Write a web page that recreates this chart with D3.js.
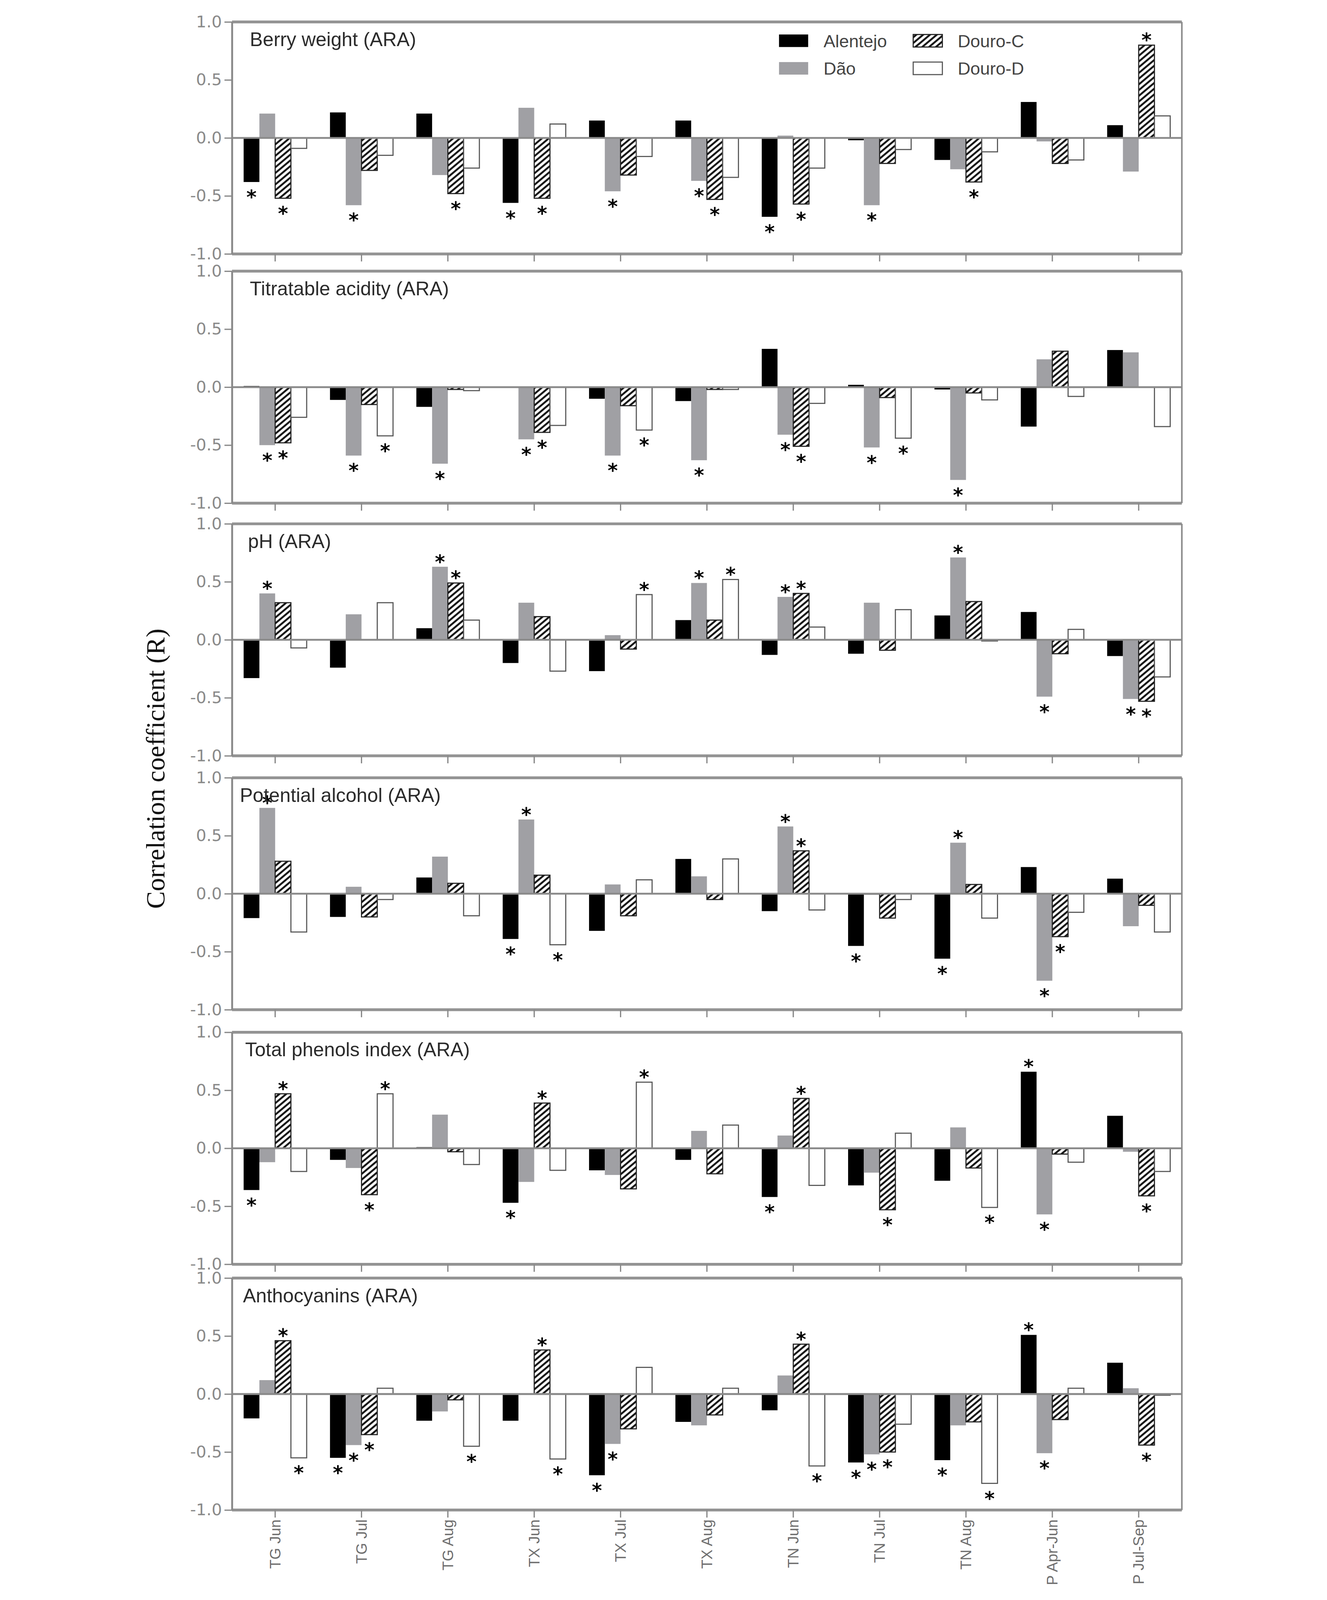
<!DOCTYPE html>
<html>
<head>
<meta charset="utf-8">
<script src="https://cdn.jsdelivr.net/npm/d3@7"></script>
<style>
  html, body { margin: 0; padding: 0; background: #fff; overflow: hidden; }
  svg { display: block; }
</style>
</head>
<body>
<div id="chart"></div>
<script>
// ---- data -------------------------------------------------------------
var months = ["TG Jun", "TG Jul", "TG Aug", "TX Jun", "TX Jul", "TX Aug",
              "TN Jun", "TN Jul", "TN Aug", "P Apr-Jun", "P Jul-Sep"];
var regions = ["Alentejo", "Dão", "Douro-C", "Douro-D"];
var panelTitles = ["Berry weight (ARA)", "Titratable acidity (ARA)", "pH (ARA)",
                   "Potential alcohol (ARA)", "Total phenols index (ARA)", "Anthocyanins (ARA)"];
var tickValues = [1.0, 0.5, 0.0, -0.5, -1.0];

// rows follow `regions`, columns follow `months`
var berryWeight = [
  [-0.38, 0.22, 0.21, -0.56, 0.15, 0.15, -0.68, -0.02, -0.19, 0.31, 0.11],
  [0.21, -0.58, -0.32, 0.26, -0.46, -0.37, 0.02, -0.58, -0.27, -0.03, -0.29],
  [-0.52, -0.28, -0.48, -0.52, -0.32, -0.53, -0.57, -0.22, -0.38, -0.22, 0.80],
  [-0.09, -0.15, -0.26, 0.12, -0.16, -0.34, -0.26, -0.10, -0.12, -0.19, 0.19]
];
var titratableAcidity = [
  [0.01, -0.11, -0.17, 0.00, -0.10, -0.12, 0.33, 0.02, -0.02, -0.34, 0.32],
  [-0.50, -0.59, -0.66, -0.45, -0.59, -0.63, -0.41, -0.52, -0.80, 0.24, 0.30],
  [-0.48, -0.15, -0.02, -0.39, -0.16, -0.02, -0.51, -0.09, -0.05, 0.31, 0.00],
  [-0.26, -0.42, -0.03, -0.33, -0.37, -0.02, -0.14, -0.44, -0.11, -0.08, -0.34]
];
var pH = [
  [-0.33, -0.24, 0.10, -0.20, -0.27, 0.17, -0.13, -0.12, 0.21, 0.24, -0.14],
  [0.40, 0.22, 0.63, 0.32, 0.04, 0.49, 0.37, 0.32, 0.71, -0.49, -0.51],
  [0.32, 0.00, 0.49, 0.20, -0.08, 0.17, 0.40, -0.09, 0.33, -0.12, -0.53],
  [-0.07, 0.32, 0.17, -0.27, 0.39, 0.52, 0.11, 0.26, -0.01, 0.09, -0.32]
];
var potentialAlcohol = [
  [-0.21, -0.20, 0.14, -0.39, -0.32, 0.30, -0.15, -0.45, -0.56, 0.23, 0.13],
  [0.74, 0.06, 0.32, 0.64, 0.08, 0.15, 0.58, -0.01, 0.44, -0.75, -0.28],
  [0.28, -0.20, 0.09, 0.16, -0.19, -0.05, 0.37, -0.21, 0.08, -0.37, -0.10],
  [-0.33, -0.05, -0.19, -0.44, 0.12, 0.30, -0.14, -0.05, -0.21, -0.16, -0.33]
];
var totalPhenols = [
  [-0.36, -0.10, 0.01, -0.47, -0.19, -0.10, -0.42, -0.32, -0.28, 0.66, 0.28],
  [-0.12, -0.17, 0.29, -0.29, -0.23, 0.15, 0.11, -0.21, 0.18, -0.57, -0.03],
  [0.47, -0.40, -0.03, 0.39, -0.35, -0.22, 0.43, -0.53, -0.17, -0.05, -0.41],
  [-0.20, 0.47, -0.14, -0.19, 0.57, 0.20, -0.32, 0.13, -0.51, -0.12, -0.20]
];
var anthocyanins = [
  [-0.21, -0.55, -0.23, -0.23, -0.70, -0.24, -0.14, -0.59, -0.57, 0.51, 0.27],
  [0.12, -0.44, -0.15, 0.00, -0.43, -0.27, 0.16, -0.52, -0.27, -0.51, 0.05],
  [0.46, -0.35, -0.05, 0.38, -0.30, -0.18, 0.43, -0.50, -0.24, -0.22, -0.44],
  [-0.55, 0.05, -0.45, -0.56, 0.23, 0.05, -0.62, -0.26, -0.77, 0.05, -0.01]
];

// significant correlations (*): region indexes for each month
var berryWeightSig = [[0, 2], [1], [2], [0, 2], [1], [1, 2], [0, 2], [1], [2], [], [2]];
var titratableAciditySig = [[1, 2], [1, 3], [1], [1, 2], [1, 3], [1], [1, 2], [1, 3], [1], [], []];
var pHSig = [[1], [], [1, 2], [], [3], [1, 3], [1, 2], [], [1], [1], [1, 2]];
var potentialAlcoholSig = [[1], [], [], [0, 1, 3], [], [], [1, 2], [0], [0, 1], [1, 2], []];
var totalPhenolsSig = [[0, 2], [2, 3], [], [0, 2], [3], [], [0, 2], [2], [3], [0, 1], [2]];
var anthocyaninsSig = [[2, 3], [0, 1, 2], [3], [2, 3], [0, 1], [], [2, 3], [0, 1, 2], [0, 3], [0, 1], [2]];

var panelValues = [berryWeight, titratableAcidity, pH, potentialAlcohol, totalPhenols, anthocyanins];
var panelSig = [berryWeightSig, titratableAciditySig, pHSig, potentialAlcoholSig, totalPhenolsSig, anthocyaninsSig];

// ---- layout -----------------------------------------------------------
var width = 3397, height = 5104;
var plotLeft = 322, plotRight = 3352, panelHeight = 740;
var panelTops = [70, 865, 1671, 2481, 3293, 4077];
var titleX = [379, 379, 373, 347, 364, 357];
var fills = ["#000000", "#a0a0a4", "url(#hatch)", "#ffffff"];
var strokes = ["none", "none", "#222222", "#555555"];
var sans = "'Liberation Sans', Arial, sans-serif";

// the drawing is laid out on a 3397 x 5104 grid and scaled to the window
var svg = d3.select("#chart").append("svg")
  .attr("viewBox", "0 0 " + width + " " + height)
  .attr("preserveAspectRatio", "xMidYMin meet")
  .style("width", "100vw")
  .style("height", "100vh");

var defs = svg.append("defs");
var hatch = defs.append("pattern")
  .attr("id", "hatch")
  .attr("patternUnits", "userSpaceOnUse")
  .attr("width", 14)
  .attr("height", 14)
  .attr("patternTransform", "rotate(-40)");
hatch.append("rect").attr("width", 14).attr("height", 14).attr("fill", "#fff");
hatch.append("rect").attr("y", 4).attr("width", 14).attr("height", 6).attr("fill", "#111");

var x0 = d3.scaleBand()
  .domain(months)
  .range([plotLeft, plotRight])
  .paddingInner(0.27)
  .paddingOuter(0.135);

var x1 = d3.scaleBand()
  .domain(regions)
  .range([0, x0.bandwidth()]);

var y = d3.scaleLinear()
  .domain([-1, 1])
  .range([panelHeight, 0]);

panelValues.forEach(function(values, p) {
  var g = svg.append("g").attr("transform", "translate(0," + panelTops[p] + ")");
  var sig = panelSig[p];
  var bars = [];
  months.forEach(function(m, i) {
    regions.forEach(function(r, j) {
      bars.push({ month: m, region: r, ri: j, v: values[j][i], sig: sig[i].indexOf(j) >= 0 });
    });
  });

  g.selectAll("rect.bar")
    .data(bars)
    .enter().append("rect")
    .attr("class", "bar")
    .attr("x", function(d) { return x0(d.month) + x1(d.region); })
    .attr("width", x1.bandwidth())
    .attr("y", function(d) { return y(Math.max(0, d.v)); })
    .attr("height", function(d) { return Math.abs(y(d.v) - y(0)); })
    .attr("fill", function(d) { return fills[d.ri]; })
    .attr("stroke", function(d) { return strokes[d.ri]; })
    .attr("stroke-width", 3.5);

  // asterisks for significant correlations
  g.selectAll("text.star")
    .data(bars.filter(function(d) { return d.sig; }))
    .enter().append("text")
    .attr("class", "star")
    .attr("x", function(d) { return x0(d.month) + x1(d.region) + x1.bandwidth() / 2; })
    .attr("y", function(d) {
      var c = d.v >= 0 ? y(d.v) - 28 : y(d.v) + 36;
      return c + 34;
    })
    .attr("text-anchor", "middle")
    .attr("font-family", "'DejaVu Sans', sans-serif")
    .attr("font-weight", "bold")
    .attr("font-size", 62)
    .attr("fill", "#000")
    .text("*");

  // zero line
  g.append("line")
    .attr("x1", plotLeft).attr("x2", plotRight)
    .attr("y1", y(0)).attr("y2", y(0))
    .attr("stroke", "#8a8a8a")
    .attr("stroke-width", 6);

  // frame
  g.append("line")
    .attr("x1", plotLeft).attr("x2", plotRight)
    .attr("y1", y(1)).attr("y2", y(1))
    .attr("stroke", "#939393").attr("stroke-width", 9);
  g.append("line")
    .attr("x1", plotLeft).attr("x2", plotRight)
    .attr("y1", y(-1)).attr("y2", y(-1))
    .attr("stroke", "#939393").attr("stroke-width", 9);
  g.append("line")
    .attr("x1", plotRight).attr("x2", plotRight)
    .attr("y1", y(1)).attr("y2", y(-1))
    .attr("stroke", "#8a8a8a").attr("stroke-width", 5);

  var yAxis = g.append("g")
    .attr("transform", "translate(" + plotLeft + ",0)")
    .call(d3.axisLeft(y)
      .tickValues(tickValues)
      .tickFormat(function(d) { return d.toFixed(1); })
      .tickSize(24)
      .tickSizeOuter(0)
      .tickPadding(8));
  yAxis.select(".domain").attr("stroke", "#888").attr("stroke-width", 6);
  yAxis.selectAll(".tick line").attr("stroke", "#888").attr("stroke-width", 4);
  yAxis.selectAll(".tick text")
    .attr("font-family", "'DejaVu Sans', Verdana, sans-serif")
    .attr("font-size", 52)
    .attr("fill", "#8a8a8a");

  var xAxis = g.append("g")
    .attr("transform", "translate(0," + panelHeight + ")")
    .call(d3.axisBottom(x0).tickSize(24).tickSizeOuter(0));
  xAxis.select(".domain").remove();
  xAxis.selectAll(".tick line").attr("stroke", "#888").attr("stroke-width", 4);
  if (p === panelValues.length - 1) {
    xAxis.selectAll(".tick text")
      .attr("transform", "rotate(-90)")
      .attr("text-anchor", "end")
      .attr("x", -30)
      .attr("y", 0)
      .attr("dy", "0.35em")
      .attr("font-family", sans)
      .attr("font-size", 48)
      .attr("fill", "#6f6f6f");
  } else {
    xAxis.selectAll(".tick text").remove();
  }

  g.append("text")
    .attr("x", titleX[p])
    .attr("y", 77)
    .attr("font-family", sans)
    .attr("font-size", 62)
    .attr("fill", "#2b2b2b")
    .text(panelTitles[p]);
});

// legend inside the first panel
var legend = svg.append("g").selectAll("g")
  .data(regions)
  .enter().append("g")
  .attr("transform", function(d, i) {
    return "translate(" + (2067 + Math.floor(i / 2) * 428) + "," + (110 + (i % 2) * 88) + ")";
  });
legend.append("rect")
  .attr("width", 93)
  .attr("height", 40)
  .attr("fill", function(d, i) { return fills[i]; })
  .attr("stroke", function(d, i) { return strokes[i]; })
  .attr("stroke-width", 3.5);
legend.append("text")
  .attr("x", 142)
  .attr("y", 20)
  .attr("dy", "0.36em")
  .attr("font-family", sans)
  .attr("font-size", 56)
  .attr("fill", "#444")
  .text(function(d) { return d; });

// y axis title
svg.append("text")
  .attr("transform", "translate(107,2452) rotate(-90)")
  .attr("text-anchor", "middle")
  .attr("font-family", "'Liberation Serif', 'Times New Roman', serif")
  .attr("font-size", 84)
  .attr("fill", "#111")
  .text("Correlation coefficient (R)");
</script>
</body>
</html>
